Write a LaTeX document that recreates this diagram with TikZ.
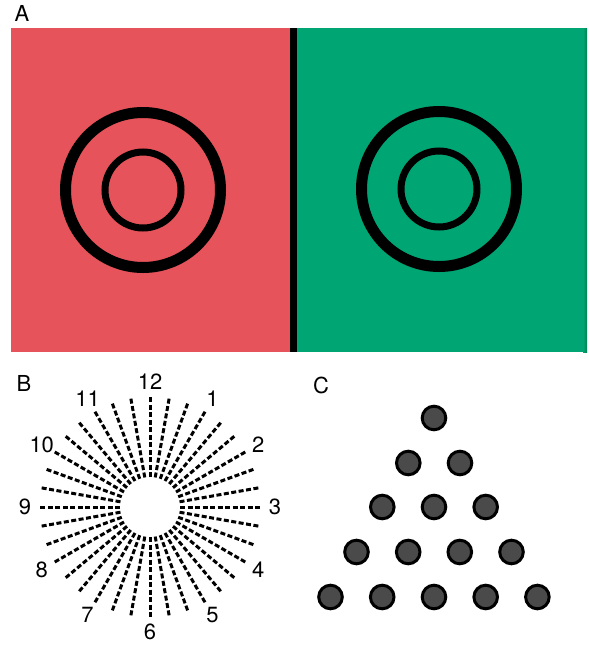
\documentclass[tikz,border=0pt]{standalone}
\usepackage{fontspec}
\setmainfont{TeX Gyre Heros}
\definecolor{panelred}{HTML}{E6535A}
\definecolor{panelgreen}{HTML}{00A574}
\definecolor{greenedge}{HTML}{00804F}
\definecolor{dotgray}{HTML}{4A4A4A}
\begin{document}
\begin{tikzpicture}[x=1pt,y=-1pt,
  lbl/.style={font=\fontsize{22}{24}\selectfont, inner sep=0pt},
  ray/.style={line width=3pt, dash pattern=on 5pt off 2.5pt},
  ringthick/.style={line width=11pt},
  ringthin/.style={line width=7pt},
  dot/.style={circle, draw=black, line width=3pt, fill=dotgray, minimum size=23.6pt, inner sep=0pt}]
\useasboundingbox (0,0) rectangle (589,646);
% ---------- Panel A ----------
\node[lbl] (labA) at (22,13) {A};
\fill[panelred] (11,28) rectangle (290,352);
\fill[black] (290,28) rectangle (296.5,352);
\fill[panelgreen] (296.5,28) rectangle (587,352);
\shade[left color=panelgreen, right color=greenedge] (583,28) rectangle (587,352);
\draw[ringthick] (143,190) circle[radius=77.5];
\draw[ringthin] (143,190) circle[radius=38];
\draw[ringthick] (439,189) circle[radius=77.5];
\draw[ringthin] (439,189) circle[radius=38];
% ---------- Panel B ----------
\node[lbl] (labB) at (24,383) {B};
\foreach \a in {0,10,...,350}{
  \draw[ray] ({150+30*sin(\a)},{507-30*cos(\a)}) -- ({150+110*sin(\a)},{507-110*cos(\a)});
}
\foreach \k in {1,...,12}{
  \node[lbl] (n\k) at ({150+125*sin(30*\k)},{507-125*cos(30*\k)}) {\k};
}
% ---------- Panel C ----------
\node[lbl] (labC) at (321,385) {C};
\node[dot] (d11) at (434,418) {};
\node[dot] (d21) at (408.3,463) {};
\node[dot] (d22) at (460,463) {};
\node[dot] (d31) at (382.3,507) {};
\node[dot] (d32) at (434,507) {};
\node[dot] (d33) at (485.7,507) {};
\node[dot] (d41) at (356.5,552) {};
\node[dot] (d42) at (408.2,552) {};
\node[dot] (d43) at (459.8,552) {};
\node[dot] (d44) at (511.5,552) {};
\node[dot] (d51) at (330.5,597) {};
\node[dot] (d52) at (382.2,597) {};
\node[dot] (d53) at (434,597) {};
\node[dot] (d54) at (485.7,597) {};
\node[dot] (d55) at (537.4,597) {};
\end{tikzpicture}
\end{document}
